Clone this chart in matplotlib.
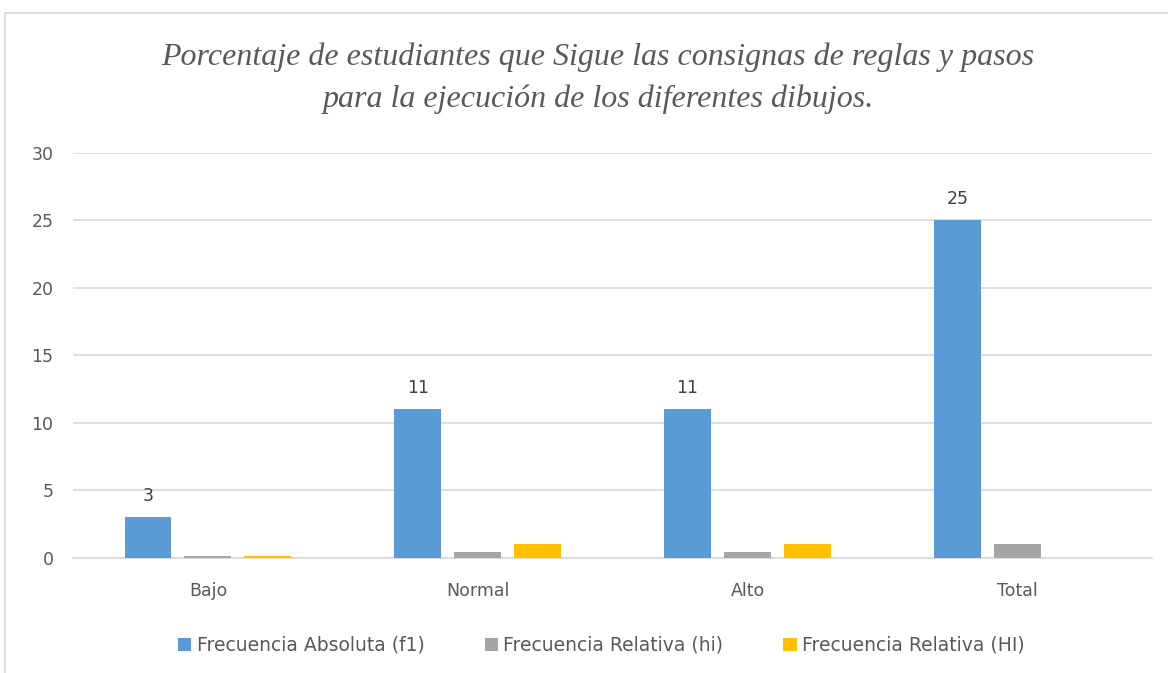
import numpy as np
import matplotlib.pyplot as plt
from matplotlib.patches import Rectangle

categorias = ["Bajo", "Normal", "Alto", "Total"]
frec_abs = [3, 11, 11, 25]
frec_rel = [0.12, 0.44, 0.44, 1.0]
frec_rel_acum = [0.12, 1.0, 1.0, 0]
series = ["Frecuencia Absoluta (f1)", "Frecuencia Relativa (hi)", "Frecuencia Relativa (HI)"]
colores = ["#5b9bd5", "#a5a5a5", "#ffc000"]
titulo = ("Porcentaje de estudiantes que Sigue las consignas de reglas y pasos\n"
          "para la ejecución de los diferentes dibujos.")


def main():
    fig = plt.figure(figsize=(11.68, 6.73), dpi=100)
    ax = fig.add_axes([0.0625, 0.171, 0.924, 0.602])

    # marco del grafico
    fig.patches.append(Rectangle((5 / 1168, -0.1), 1.2, 1 - 13 / 673 + 0.1,
                                 transform=fig.transFigure, fill=False,
                                 edgecolor="#d9d9d9", linewidth=1.3))

    x = np.arange(len(categorias))
    w = 0.174
    step = 0.222
    valores = [frec_abs, frec_rel, frec_rel_acum]
    for k, (vals, nombre, c) in enumerate(zip(valores, series, colores)):
        ax.bar(x + (k - 1) * step, vals, w, color=c, label=nombre, zorder=3)

    for xi, v in zip(x - step, frec_abs):
        ax.text(xi, v + 0.9, str(v), ha="center", va="bottom",
                fontsize=12.5, color="#404040")

    ax.set_xlim(-0.5, 3.5)
    ax.set_ylim(0, 30)
    ax.set_yticks(range(0, 31, 5))
    ax.yaxis.grid(True, color="#d9d9d9", linewidth=1.2, zorder=0)
    ax.set_xticks(x)
    ax.set_xticklabels(categorias)
    ax.tick_params(axis="both", length=0, labelsize=12.5, labelcolor="#595959")
    ax.tick_params(axis="x", pad=17)
    ax.tick_params(axis="y", pad=14)
    for s in ["top", "right", "left"]:
        ax.spines[s].set_visible(False)
    ax.spines["bottom"].set_color("#d9d9d9")
    ax.spines["bottom"].set_linewidth(1.2)

    fig.text(0.512, 0.884, titulo, ha="center", va="center",
             fontsize=23, style="italic",
             family=["Liberation Serif", "DejaVu Serif"],
             color="#595959", linespacing=1.55)

    fig.legend(loc="center", bbox_to_anchor=(0.515, 0.041), ncol=3,
               frameon=False, fontsize=13.5, handlelength=0.7,
               handleheight=0.7, handletextpad=0.3, columnspacing=3.2,
               labelcolor="#595959")

    fig.savefig("out.png", dpi=100)


if __name__ == "__main__":
    main()
